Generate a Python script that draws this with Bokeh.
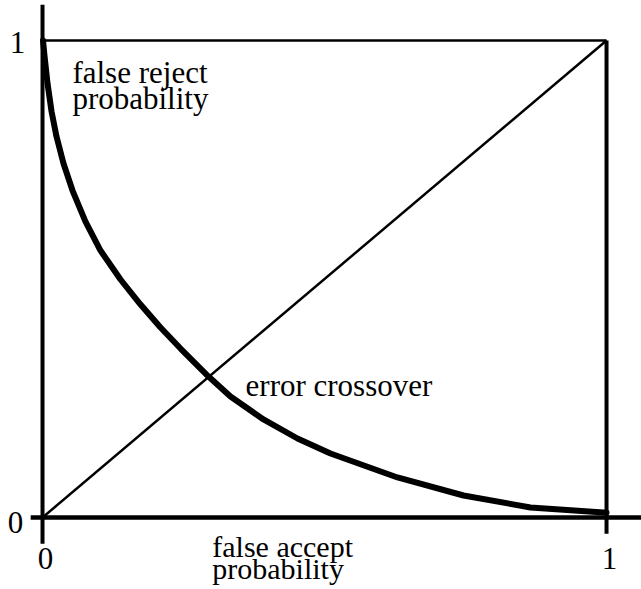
from bokeh.plotting import figure
from bokeh.models import Range1d
from bokeh.core.properties import value
from bokeh.embed import file_html
from bokeh.resources import INLINE

# False reject probability as a function of false accept probability
far = [0.0009, 0.0035, 0.0089, 0.0160, 0.0248, 0.0372, 0.0532, 0.0762, 0.1028,
       0.1383, 0.1738, 0.2092, 0.2447, 0.2943, 0.3333, 0.3918, 0.4521, 0.5106,
       0.6294, 0.7465, 0.8652, 0.9947, 1.0]
frr = [1.0, 0.9686, 0.9099, 0.8512, 0.7987, 0.7421, 0.6855, 0.6205, 0.5597,
       0.4990, 0.4465, 0.3983, 0.3543, 0.2956, 0.2537, 0.2055, 0.1656, 0.1342,
       0.0839, 0.0461, 0.0210, 0.0105, 0.0105]

# Equal-error reference line
diag_x = [0.0, 1.0]
diag_y = [0.0, 1.0]

# Tick values and their labels
ticks = [0.0, 1.0]
tick_labels = ["0", "1"]

FONT = value("Liberation Serif")
FSIZE = value("31px")
FSIZE_BOTTOM = value("30px")

p = figure(width=641, height=589, output_backend="svg", toolbar_location=None,
           x_range=Range1d(-0.0745, 1.062), y_range=Range1d(-0.151, 1.084),
           min_border=0, min_border_left=0, min_border_right=0,
           min_border_top=0, min_border_bottom=0)
p.axis.visible = False
p.grid.visible = False
p.outline_line_color = None
p.background_fill_color = "white"
p.border_fill_color = "white"

# Axis lines and the unit box
p.segment(x0=[0.0], y0=[-0.055], x1=[0.0], y1=[1.075], line_color="black", line_width=4)
p.segment(x0=[-0.021], y0=[0.0], x1=[1.062], y1=[0.0], line_color="black", line_width=4.5)
p.segment(x0=[0.0], y0=[1.0], x1=[1.0], y1=[1.0], line_color="black", line_width=2.5)
p.segment(x0=[1.0], y0=[-0.034], x1=[1.0], y1=[1.0], line_color="black", line_width=4)

# Diagonal and the error curve
p.line(diag_x, diag_y, line_color="black", line_width=2.5)
p.line(far, frr, line_color="black", line_width=6, line_join="round", line_cap="round")

# Tick labels on the vertical axis
p.text(x=[0.0], y=[ticks[0]], text=[tick_labels[0]], text_font=FONT,
       text_font_size=FSIZE, text_align="center", text_baseline="middle",
       x_offset=-27, y_offset=5, text_color="black")
p.text(x=[0.0], y=[ticks[1]], text=[tick_labels[1]], text_font=FONT,
       text_font_size=FSIZE, text_align="center", text_baseline="middle",
       x_offset=-25, y_offset=2, text_color="black")
# Tick labels on the horizontal axis
p.text(x=ticks, y=[0.0] * len(ticks), text=tick_labels, text_font=FONT,
       text_font_size=FSIZE, text_align="center", text_baseline="middle",
       y_offset=41, x_offset=3, text_color="black")

# Annotations
p.text(x=[0.053, 0.053], y=[0.933, 0.878], text=["false reject", "probability"],
       text_font=FONT, text_font_size=FSIZE, text_align="left",
       text_baseline="alphabetic", text_color="black")
p.text(x=[0.36], y=[0.277], text=["error crossover"],
       text_font=FONT, text_font_size=FSIZE, text_align="left",
       text_baseline="alphabetic", text_color="black")
p.text(x=[0.301, 0.301], y=[-0.061, -0.108], text=["false accept", "probability"],
       text_font=FONT, text_font_size=FSIZE_BOTTOM, text_align="left",
       text_baseline="alphabetic", text_color="black")

open("out.html", "w").write(file_html(p, INLINE))
